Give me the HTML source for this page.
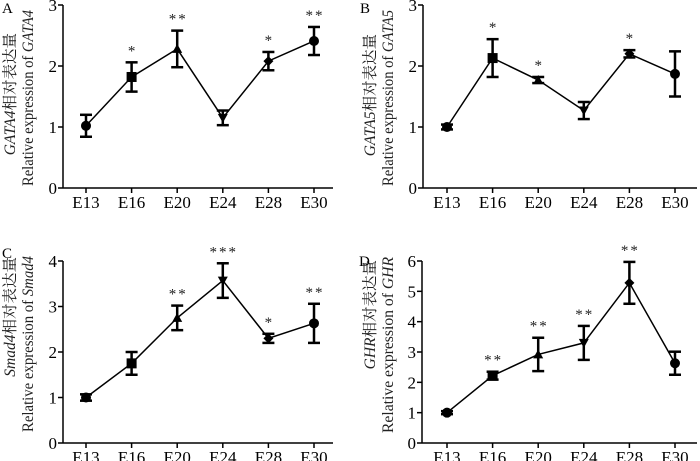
<!DOCTYPE html>
<html><head><meta charset="utf-8"><style>
html,body{margin:0;padding:0;background:#fff;}
svg{display:block;font-family:"Liberation Serif","Noto Serif CJK SC",serif;}
</style></head><body>
<svg id="fig" width="700" height="461" viewBox="0 0 700 461" xmlns="http://www.w3.org/2000/svg"></svg>
<script>
const categories = ["E13","E16","E20","E24","E28","E30"];
const gata4Values = [1.02,1.82,2.28,1.15,2.08,2.41];
const gata4Errors = [0.18,0.24,0.30,0.12,0.15,0.23];
const gata4Stars = ["","*","**","","*","**"];
const gata5Values = [1.0,2.13,1.77,1.27,2.2,1.87];
const gata5Errors = [0.04,0.31,0.05,0.14,0.06,0.37];
const gata5Stars = ["","*","*","","*",""];
const smad4Values = [1.0,1.75,2.75,3.57,2.3,2.63];
const smad4Errors = [0.07,0.25,0.27,0.38,0.1,0.43];
const smad4Stars = ["","","**","***","*","**"];
const ghrValues = [1.0,2.22,2.92,3.3,5.28,2.63];
const ghrErrors = [0.05,0.13,0.55,0.56,0.69,0.38];
const ghrStars = ["","**","**","**","**",""];
const ticksA = [0,1,2,3];
const ticksC = [0,1,2,3,4];
const ticksD = [0,1,2,3,4,5,6];

const NS="http://www.w3.org/2000/svg";
const svg=document.getElementById('fig');
function mk(tag,attrs,parent){const e=document.createElementNS(NS,tag);for(const k in attrs)e.setAttribute(k,attrs[k]);(parent||svg).appendChild(e);return e;}

const panels=[
 {id:'a',letter:'A',gene:'GATA4',vals:gata4Values,errs:gata4Errors,stars:gata4Stars,ticks:ticksA,ax:63,x0:86,y0:188,yTop:5,xEnd:333,lx:2,ly:13,l1:9,l2:27,tTop:10,cTop:33},
 {id:'b',letter:'B',gene:'GATA5',vals:gata5Values,errs:gata5Errors,stars:gata5Stars,ticks:ticksA,ax:423,x0:447,y0:188,yTop:5,xEnd:697,lx:360,ly:13,l1:369,l2:387,tTop:10,cTop:34},
 {id:'c',letter:'C',gene:'Smad4',vals:smad4Values,errs:smad4Errors,stars:smad4Stars,ticks:ticksC,ax:63,x0:86,y0:443,yTop:261,xEnd:333,lx:2,ly:258,l1:9,l2:27,tTop:256,cTop:257},
 {id:'d',letter:'D',gene:'GHR',vals:ghrValues,errs:ghrErrors,stars:ghrStars,ticks:ticksD,ax:422,x0:447,y0:443,yTop:261,xEnd:697,lx:359,ly:266,l1:369,l2:387,tTop:257,cTop:260}
];
const step=45.6;
const markers=['circle','square','tri','itri','diamond','circle'];

panels.forEach(p=>{
 const g=mk('g',{});
 
 
 const ymax=p.ticks[p.ticks.length-1];
 const X=i=>p.x0+i*step;
 const Y=v=>p.y0-(v/ymax)*(p.y0-p.yTop);
 const lt=mk('text',{x:p.lx,y:p.ly,'font-size':15},g);lt.textContent=p.letter;
 
 const ya=mk('line',{x1:p.ax,y1:p.yTop,x2:p.ax,y2:p.y0,stroke:'#000','stroke-width':1.5},g);
 
 const xa=mk('line',{x1:p.ax,y1:p.y0,x2:p.xEnd,y2:p.y0,stroke:'#000','stroke-width':1.5},g);
 
 p.ticks.forEach(t=>{
  mk('line',{x1:p.ax-5,y1:Y(t),x2:p.ax,y2:Y(t),stroke:'#000','stroke-width':1.5},g);
  const tx=mk('text',{x:p.ax-6,y:Y(t)+6,'font-size':17,'text-anchor':'end'},g);tx.textContent=t;
  
 });
 categories.forEach((c,i)=>{
  mk('line',{x1:X(i),y1:p.y0,x2:X(i),y2:p.y0+5,stroke:'#000','stroke-width':1.5},g);
  const tx=mk('text',{x:X(i),y:p.y0+20,'font-size':17,'text-anchor':'middle'},g);tx.textContent=c;
  
 });
 const t1=mk('text',{transform:`translate(${p.l1+6},${p.cTop}) rotate(-90)`,'font-size':15.5,'text-anchor':'end',fill:'#222'},g);
 t1.innerHTML=`<tspan font-style="italic">${p.gene}</tspan>相对表达量`;
 
 const t2=mk('text',{transform:`translate(${p.l2+6},${p.tTop}) rotate(-90)`,'font-size':15.5,'text-anchor':'end',fill:'#222',textLength:176,lengthAdjust:'spacingAndGlyphs'},g);
 t2.innerHTML=`Relative expression of <tspan font-style="italic">${p.gene}</tspan>`;
 
 const pts=p.vals.map((v,i)=>X(i)+','+Y(v)).join(' ');
 const pl=mk('polyline',{points:pts,fill:'none',stroke:'#000','stroke-width':1.5},g);
 
 p.vals.forEach((v,i)=>{
  const x=X(i),y=Y(v),e=p.errs[i];
  const eg=mk('g',{stroke:'#000','stroke-width':2.5},g);
  
  mk('line',{x1:x,y1:Y(v+e),x2:x,y2:Y(v-e)},eg);
  mk('line',{x1:x-6,y1:Y(v+e),x2:x+6,y2:Y(v+e)},eg);
  mk('line',{x1:x-6,y1:Y(v-e),x2:x+6,y2:Y(v-e)},eg);
  let m;const s=5;
  switch(markers[i]){
   case 'circle': m=mk('circle',{cx:x,cy:y,r:s},g);break;
   case 'square': m=mk('rect',{x:x-s,y:y-s,width:2*s,height:2*s},g);break;
   case 'tri': m=mk('polygon',{points:`${x},${y-s} ${x+s},${y+s*0.8} ${x-s},${y+s*0.8}`},g);break;
   case 'itri': m=mk('polygon',{points:`${x},${y+s} ${x+s},${y-s*0.8} ${x-s},${y-s*0.8}`},g);break;
   case 'diamond': m=mk('polygon',{points:`${x},${y-s} ${x+s},${y} ${x},${y+s} ${x-s},${y}`},g);break;
  }
  m.setAttribute('fill','#000');
  
  
  if(p.stars[i]){
   const st=mk('text',{x:x+1,y:Y(v+e)-7,'font-size':15,'text-anchor':'middle','letter-spacing':2,fill:'#222'},g);
   st.textContent=p.stars[i];
   
  }
 });
});
</script>
</body></html>
